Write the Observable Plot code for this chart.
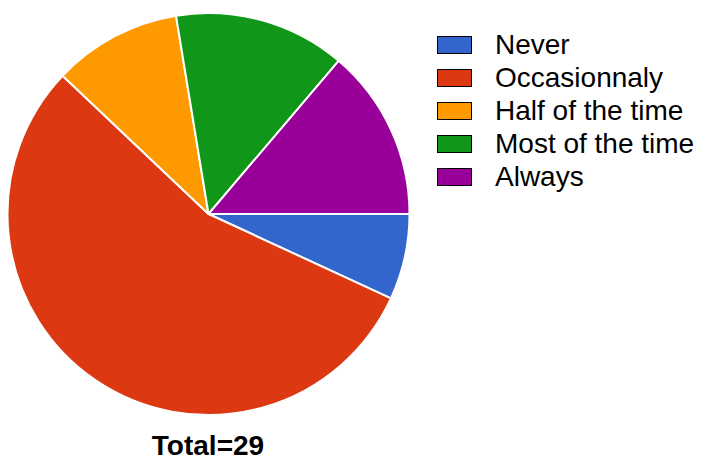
<!DOCTYPE html>
<html>
<head>
<meta charset="utf-8">
<script src="https://cdn.jsdelivr.net/npm/d3@7"></script>
<script src="https://cdn.jsdelivr.net/npm/@observablehq/plot@0.6"></script>
<style>
  html, body { margin: 0; padding: 0; background: #fff; }
  #wrap { position: relative; width: 709px; height: 463px; font-family: "Liberation Sans", Arial, sans-serif; }
  #chart { position: absolute; left: 0; top: 0; }
  #legend { position: absolute; left: 437px; top: 28px; }
  .row { display: flex; align-items: center; height: 33px; }
  .sw { width: 33px; height: 16px; border: 1.5px solid #000; margin-right: 23px; box-sizing: content-box; }
  .lab { font-size: 28px; color: #000; line-height: 33px; white-space: nowrap; }
  #caption { position: absolute; left: 108px; width: 200px; text-align: center; top: 430px; font-size: 28px; font-weight: bold; line-height: 32px; color: #000; }
</style>
</head>
<body>
<div id="wrap">
  <div id="chart"></div>
  <div id="legend"></div>
  <div id="caption"></div>
</div>
<script>
const categories = ["Never", "Occasionnaly", "Half of the time", "Most of the time", "Always"];
const counts = [2, 16, 3, 4, 4];
const colors = ["#3366CC", "#DC3912", "#FF9900", "#109618", "#990099"];
const captionText = "Total=" + d3.sum(counts);

const slices = categories.map((c, i) => ({category: c, count: counts[i]}));

const pie = d3.pie().sort(null).value(d => d.count).startAngle(Math.PI / 2).endAngle(Math.PI / 2 + 2 * Math.PI);
const arcs = pie(slices);

const pieMark = Plot.dot(slices, {
  x: () => 0,
  y: () => 0,
  fill: "category",
  render(index, scales, values, dimensions, context) {
    const cx = scales.x(0), cy = scales.y(0);
    const r = Math.abs(scales.x(1) - scales.x(0));
    const arc = d3.arc().innerRadius(0).outerRadius(r);
    const g = d3.create("svg:g").attr("transform", `translate(${cx},${cy})`);
    for (const i of index) {
      g.append("path")
        .attr("d", arc(arcs[i]))
        .attr("fill", values.fill[i])
        .attr("stroke", "#fff")
        .attr("stroke-width", 2)
        .attr("stroke-linejoin", "round");
    }
    return g.node();
  }
});

const plot = Plot.plot({
  width: 709,
  height: 463,
  margin: 0,
  x: {domain: [-1, 1], range: [7.5, 409.5], axis: null},
  y: {domain: [-1, 1], range: [415, 13], axis: null},
  color: {domain: categories, range: colors},
  marks: [pieMark]
});
document.getElementById("chart").appendChild(plot);

const legend = d3.select("#legend");
categories.forEach((c, i) => {
  const row = legend.append("div").attr("class", "row");
  row.append("div").attr("class", "sw").style("background", colors[i]);
  row.append("div").attr("class", "lab").text(c);
});
document.getElementById("caption").textContent = captionText;
</script>
</body>
</html>
